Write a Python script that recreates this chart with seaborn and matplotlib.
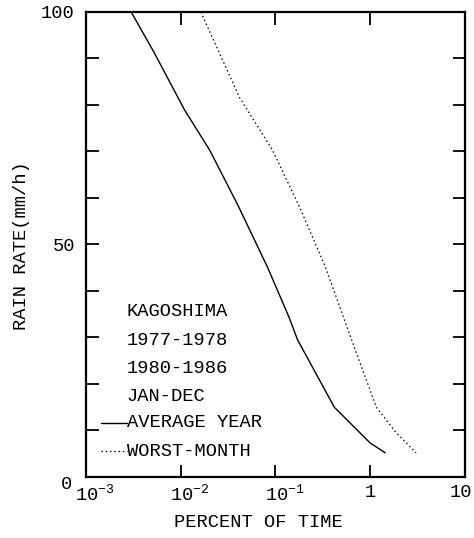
import numpy as np
import pandas as pd
import matplotlib
matplotlib.use("Agg")
import matplotlib.pyplot as plt
import matplotlib.transforms as mtransforms
import seaborn as sns

# Cumulative rain-rate statistics, Kagoshima
avg_pct = [0.0030, 0.0052, 0.0110, 0.0202, 0.040, 0.082, 0.140, 0.171, 0.418, 1.00, 1.44]
avg_rate = [100, 91.4, 78.9, 70.3, 58.5, 45.2, 34.2, 29.5, 15.0, 7.3, 5.2]
worst_pct = [0.0163, 0.042, 0.093, 0.179, 0.336, 0.713, 1.16, 1.88, 3.05]
worst_rate = [100, 81.5, 70.3, 58.1, 45.2, 26.7, 15.0, 9.5, 5.2]

x_ticks = [1e-3, 1e-2, 1e-1, 1, 10]
x_tick_labels = [r"$\mathregular{10^{-3}}$", r"$\mathregular{10^{-2}}$",
                 r"$\mathregular{10^{-1}}$", "1", "10"]
y_ticks = [0, 50, 100]
info_lines = ["KAGOSHIMA", "1977-1978", "1980-1986", "JAN-DEC"]

sns.set_theme(style="white")
FONT = ["Liberation Mono", "DejaVu Sans Mono"]
plt.rcParams["font.family"] = FONT
plt.rcParams["mathtext.fontset"] = "custom"
plt.rcParams["mathtext.rm"] = "Liberation Mono"
FS = 13.5

fig = plt.figure(figsize=(4.74, 5.38), dpi=100)
ax = fig.add_axes([0.1814, 0.1134, 0.7996, 0.8643])

df_avg = pd.DataFrame({"pct": avg_pct, "rate": avg_rate})
df_worst = pd.DataFrame({"pct": worst_pct, "rate": worst_rate})
sns.lineplot(data=df_avg, x="pct", y="rate", ax=ax, color="black",
             lw=1.0, sort=False, estimator=None)
sns.lineplot(data=df_worst, x="pct", y="rate", ax=ax, color="black",
             lw=0.9, ls=(0, (1.2, 2.2)), sort=False, estimator=None)

ax.set_xscale("log")
ax.set_xlim(1e-3, 10)
ax.set_ylim(0, 100)
ax.set_xticks(x_ticks)
ax.set_xticklabels(x_tick_labels)
ax.xaxis.set_minor_locator(matplotlib.ticker.NullLocator())
ax.set_yticks(y_ticks)
ax.set_yticks(np.arange(0, 101, 10), minor=True)
ax.set_yticklabels([str(v) for v in y_ticks])

ax.tick_params(axis="both", which="both", direction="in", length=9, width=1.3,
               top=True, right=True, left=True, bottom=True,
               colors="black", labelsize=FS)
ax.tick_params(axis="x", which="major", pad=5)
ax.tick_params(axis="y", which="major", pad=8)
for s in ax.spines.values():
    s.set_color("black")
    s.set_linewidth(1.6)


def shift(label, dx, dy):
    label.set_transform(label.get_transform() +
                        mtransforms.ScaledTranslation(dx / 100, dy / 100, fig.dpi_scale_trans))


# shift the power-of-ten labels so the "10" sits near its tick
xlabs = ax.get_xticklabels()
for lab, txt in zip(xlabs, x_tick_labels):
    if txt.startswith("$"):
        shift(lab, 9, 0)
shift(xlabs[-1], -4, 0)
ylabs = ax.get_yticklabels()
shift(ylabs[0], -3, -6)

ax.set_xlabel("PERCENT OF TIME", fontsize=FS, color="black", va="center")
ax.set_ylabel("RAIN RATE(mm/h)", fontsize=FS, color="black", va="center")
ax.xaxis.set_label_coords(0.454, -0.097)
ax.yaxis.set_label_coords(-0.169, 0.497)

# Annotation block with line keys
tx = 0.108
for i, line in enumerate(info_lines):
    ax.text(tx, 0.355 - i * 0.0605, line, transform=ax.transAxes,
            fontsize=FS, va="center", ha="left", color="black")
ax.text(tx, 0.117, "AVERAGE YEAR", transform=ax.transAxes, fontsize=FS,
        va="center", ha="left", color="black")
ax.text(tx, 0.055, "WORST-MONTH", transform=ax.transAxes, fontsize=FS,
        va="center", ha="left", color="black")
ax.plot([0.040, 0.108], [0.117, 0.117], transform=ax.transAxes,
        color="black", lw=1.0)
ax.plot([0.040, 0.108], [0.055, 0.055], transform=ax.transAxes,
        color="black", lw=0.9, ls=(0, (1.2, 2.2)))

fig.savefig("out.png", dpi=100)
